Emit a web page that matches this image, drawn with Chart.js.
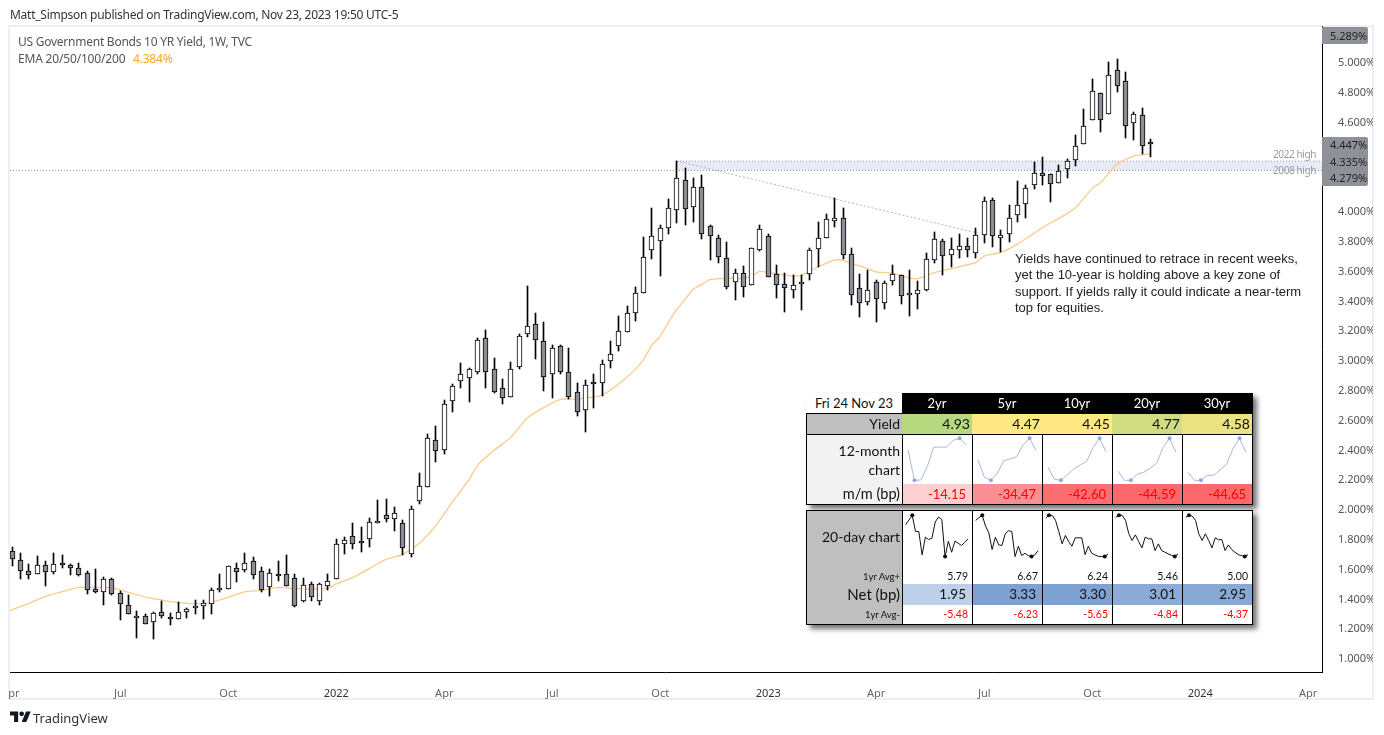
<!DOCTYPE html>
<html><head><meta charset="utf-8"><title>US 10Y</title>
<style>
html,body{margin:0;padding:0;background:#fff;width:1384px;height:735px;overflow:hidden;font-family:"Noto Sans",sans-serif}
#main{position:absolute;left:0;top:0}
.t{position:absolute;white-space:nowrap}
.c{position:absolute;box-sizing:border-box;white-space:nowrap;font-family:Lato,sans-serif;color:#111}
canvas.s{position:absolute}
</style>
<script src="https://cdn.jsdelivr.net/npm/chart.js@4"></script>
</head><body>
<canvas id="main" width="1384" height="735"></canvas>
<script>
const opens=[1.716,1.655,1.582,1.561,1.622,1.575,1.635,1.622,1.602,1.568,
1.461,1.441,1.528,1.434,1.353,1.266,1.280,1.239,1.306,1.273,
1.259,1.306,1.345,1.347,1.360,1.461,1.461,1.602,1.588,1.649,
1.582,1.474,1.561,1.561,1.535,1.380,1.494,1.380,1.481,1.528,
1.763,1.817,1.783,1.796,1.904,1.957,1.931,1.904,1.696,2.051,
2.145,2.461,2.394,2.722,2.857,2.877,2.917,3.145,2.937,2.810,
2.749,2.951,3.172,3.239,3.125,2.904,3.092,2.917,2.783,2.662,
2.850,2.843,2.991,3.092,3.186,3.313,3.447,3.736,3.796,3.884,
4.004,4.206,4.024,4.159,3.897,3.816,3.682,3.521,3.582,3.501,
3.736,3.830,3.575,3.508,3.467,3.514,3.575,3.743,3.816,3.930,
3.951,3.709,3.481,3.387,3.521,3.380,3.528,3.568,3.441,3.441,
3.467,3.669,3.796,3.702,3.736,3.763,3.716,3.837,4.071,3.816,
3.843,3.971,4.045,4.172,4.253,4.246,4.186,4.279,4.340,4.447,
4.608,4.790,4.649,4.944,4.870,4.588,4.642,4.461];
const highs=[1.743,1.702,1.631,1.682,1.649,1.702,1.691,1.629,1.635,1.582,
1.597,1.541,1.535,1.447,1.423,1.313,1.293,1.306,1.383,1.300,
1.376,1.333,1.387,1.387,1.468,1.564,1.615,1.635,1.702,1.676,
1.608,1.595,1.649,1.689,1.561,1.535,1.508,1.501,1.561,1.796,
1.810,1.904,1.877,1.937,2.060,2.067,2.011,1.924,2.018,2.239,
2.501,2.555,2.729,2.837,2.978,2.944,3.145,3.199,3.011,2.870,
2.984,3.172,3.496,3.313,3.253,3.098,3.098,3.078,2.843,2.863,
2.904,2.998,3.125,3.293,3.360,3.488,3.823,4.018,3.904,4.078,
4.335,4.286,4.219,4.239,3.904,3.837,3.790,3.608,3.629,3.749,
3.904,3.843,3.635,3.582,3.568,3.568,3.749,3.924,3.977,4.085,
4.018,3.749,3.575,3.602,3.539,3.528,3.635,3.568,3.602,3.528,
3.716,3.857,3.810,3.816,3.843,3.816,3.884,4.092,4.085,3.870,
4.038,4.199,4.172,4.329,4.360,4.250,4.306,4.347,4.508,4.682,
4.883,4.790,4.998,5.018,4.930,4.662,4.689,4.481];
const lows=[1.620,1.532,1.532,1.561,1.485,1.566,1.606,1.559,1.553,1.432,
1.438,1.358,1.425,1.257,1.293,1.136,1.226,1.130,1.271,1.224,
1.259,1.271,1.293,1.264,1.298,1.445,1.461,1.512,1.575,1.528,
1.441,1.418,1.519,1.481,1.340,1.374,1.380,1.358,1.459,1.528,
1.700,1.734,1.711,1.747,1.904,1.910,1.850,1.689,1.676,2.031,
2.145,2.313,2.371,2.653,2.814,2.720,2.908,2.814,2.776,2.707,
2.749,2.942,3.156,3.009,2.794,2.747,2.904,2.736,2.622,2.519,
2.680,2.761,2.948,3.058,3.186,3.264,3.447,3.680,3.566,3.843,
3.917,3.904,3.924,3.810,3.673,3.653,3.474,3.405,3.425,3.501,
3.729,3.555,3.418,3.324,3.418,3.338,3.539,3.626,3.816,3.895,
3.675,3.371,3.291,3.371,3.257,3.344,3.501,3.378,3.297,3.344,
3.461,3.649,3.573,3.622,3.682,3.689,3.682,3.783,3.760,3.722,
3.794,3.928,3.955,4.147,4.177,4.062,4.186,4.219,4.304,4.447,
4.608,4.532,4.649,4.801,4.488,4.474,4.380,4.364];
const closes=[1.662,1.582,1.559,1.622,1.575,1.629,1.622,1.602,1.555,1.454,
1.441,1.528,1.427,1.360,1.293,1.280,1.226,1.300,1.280,1.259,
1.306,1.327,1.347,1.367,1.454,1.468,1.615,1.575,1.635,1.555,
1.454,1.568,1.548,1.481,1.347,1.488,1.407,1.494,1.515,1.763,
1.790,1.763,1.770,1.910,1.917,1.931,1.971,1.736,1.998,2.152,
2.474,2.387,2.702,2.823,2.904,2.937,3.132,2.917,2.783,2.743,
2.937,3.159,3.226,3.132,2.884,3.078,2.917,2.749,2.649,2.830,
2.837,2.971,3.038,3.192,3.313,3.447,3.689,3.830,3.884,4.018,
4.219,4.011,4.159,3.843,3.830,3.689,3.488,3.582,3.488,3.749,
3.877,3.555,3.501,3.481,3.501,3.521,3.736,3.816,3.944,3.951,
3.702,3.434,3.380,3.467,3.407,3.514,3.575,3.427,3.447,3.467,
3.675,3.810,3.696,3.743,3.763,3.736,3.837,4.065,3.830,3.837,
3.951,4.038,4.152,4.253,4.233,4.179,4.266,4.333,4.434,4.568,
4.803,4.608,4.910,4.836,4.568,4.649,4.434,4.447];
const emaWeeks=[0.723,1,3,5,7,9,11,13,15,17,19,21,23,25,27,29,31,33,35,37,39,40,42,44,46,48,50,52,54,56,57,59,61,63,65,67,69,71,72,74,76,77,78,79,80,81,82,83,84,85,87,89,90,91,93,95,96,98,100,101,102,104,105,107,109,110,112,113,115,117,118,120,122,125,127,129,131,132,134,136,137,138];
const emaValues=[1.316,1.324,1.367,1.414,1.445,1.474,1.474,1.470,1.441,1.409,1.389,1.371,1.365,1.374,1.407,1.445,1.454,1.474,1.465,1.463,1.467,1.497,1.540,1.602,1.662,1.696,1.770,1.890,2.049,2.199,2.293,2.394,2.481,2.611,2.682,2.736,2.738,2.752,2.765,2.839,2.937,3.004,3.100,3.161,3.255,3.340,3.409,3.476,3.508,3.539,3.548,3.548,3.564,3.595,3.579,3.564,3.570,3.626,3.671,3.669,3.649,3.613,3.591,3.582,3.550,3.546,3.586,3.602,3.626,3.655,3.698,3.722,3.778,3.888,3.951,4.022,4.152,4.190,4.315,4.371,4.376,4.384];
const yTickValues=[1,1.2,1.4,1.6,1.8,2,2.2,2.4,2.6,2.8,3,3.2,3.4,3.6,3.8,4,4.2,4.4,4.6,4.8,5];
const yTickHidden=[4.2,4.4];
const xTickWeeks=[1.2,14,27,40,53,66,79,92,105,118,131,144,157];
const xTickLabels=['pr','Jul','Oct','2022','Apr','Jul','Oct','2023','Apr','Jul','Oct','2024','Apr'];
const zoneTop=4.335, zoneBottom=4.273, zoneStartWeek=81;
const trendWeeks=[81,117.2], trendValues=[4.335,3.852];
const xMin=0.723,xMax=158.66,yMin=0.906,yMax=5.242;

const tenors=['2yr','5yr','10yr','20yr','30yr'];
const yields=['4.93','4.47','4.45','4.77','4.58'];
const yieldColors=['#b8d87f','#fde884','#fde884','#cfdc82','#ebe284'];
const monthChange=['-14.15','-34.47','-42.60','-44.59','-44.65'];
const monthColors=['#fcd0d3','#fb8e92','#fb6e72','#fb696d','#fb696d'];
const avgPlus=['5.79','6.67','6.24','5.46','5.00'];
const avgMinus=['-5.48','-6.23','-5.65','-4.84','-4.37'];
const netBp=['1.95','3.33','3.30','3.01','2.95'];
const netColors=['#bcd0e9','#7da1d0','#7da1d0','#8baad5','#88a9d4'];
const spark12=[[102,11,12,52,110,110,110,130,136,117],
[72,20,11,32,69,75,81,117,136,100],
[50,14,11,27,45,57,67,109,136,97],
[38,11,11,29,35,47,62,109,136,94],
[35,11,11,26,26,42,59,107,136,94]];
const spark20=[[132,146,160,112,112,42,95,88,92,140,155,148,37,83,50,83,77,70,80,90],
[145,153,160,128,108,58,95,72,70,105,114,112,37,68,40,47,40,37,42,55],
[152,160,160,145,112,75,100,82,68,93,93,93,43,68,47,42,38,37,37,45],
[154,160,160,145,105,85,102,82,63,95,90,90,55,75,55,50,45,41,37,45],
[154,160,158,145,105,85,105,85,63,93,87,88,55,72,58,50,43,40,37,43]];

const weeks=opens.map((_,i)=>i+1);
const up=opens.map((o,i)=>closes[i]>=o);
const snap={id:'snap',beforeDatasetsDraw(chart){
  chart.data.datasets.forEach((d,i)=>{
    if(d.type!=='bar')return;
    chart.getDatasetMeta(i).data.forEach(el=>{
      el.x=Math.floor(el.x)+0.5;
      el.y=Math.round(el.y);el.base=Math.round(el.base);
      if(d.label==='body'&&el.base-el.y<2)el.base=el.y+2;
    });
  });
}};
const frame={id:'frame',beforeDraw(chart){
  const c=chart.ctx;c.save();c.strokeStyle='#eeeff5';c.lineWidth=2;
  c.strokeRect(9,26,1364,673);c.restore();
}};
new Chart(document.getElementById('main'),{
  type:'bar',
  plugins:[snap,frame],
  data:{datasets:[
    {type:'line',label:'zone',order:6,data:[{x:zoneStartWeek,y:zoneTop},{x:xMax,y:zoneTop}],borderColor:'#8a8d99',borderWidth:1,borderDash:[1,2],pointRadius:0,fill:{value:zoneBottom},backgroundColor:'#e8eaf6'},
    {type:'line',label:'support',order:5,data:[{x:xMin,y:zoneBottom},{x:xMax,y:zoneBottom}],borderColor:'#8a8d99',borderWidth:1,borderDash:[1,2],pointRadius:0,fill:false},
    {type:'line',label:'trend',order:4,data:trendWeeks.map((w,i)=>({x:w,y:trendValues[i]})),borderColor:'#b4b5bd',borderWidth:1,borderDash:[2,2],pointRadius:0,fill:false},
    {type:'line',label:'EMA',order:3,data:emaWeeks.map((w,i)=>({x:w,y:emaValues[i]})),borderColor:'#fbcb8a',borderWidth:1.3,pointRadius:0,fill:false,tension:0.2},
    {type:'bar',label:'wick',order:2,data:weeks.map((w,i)=>({x:w,y:[lows[i],highs[i]]})),backgroundColor:'#000',barThickness:1,grouped:false,borderWidth:0},
    {type:'bar',label:'body',order:1,data:weeks.map((w,i)=>({x:w,y:[Math.min(opens[i],closes[i]),Math.max(opens[i],closes[i])]})),backgroundColor:up.map(u=>u?'#fff':'#8c8e95'),borderColor:'#000',borderWidth:1,borderSkipped:false,barThickness:5,grouped:false}
  ]},
  options:{responsive:false,animation:false,
    layout:{padding:{left:10,top:26,right:11,bottom:36}},
    plugins:{legend:{display:false},tooltip:{enabled:false}},
    scales:{
      x:{type:'linear',offset:false,min:xMin,max:xMax,grid:{display:false},border:{display:true,color:'#000',width:1},
        afterBuildTicks:s=>{s.ticks=xTickWeeks.map(v=>({value:v}))},
        afterFit:s=>{s.height=27},
        ticks:{autoSkip:false,maxRotation:0,padding:7,color:c=>/^20/.test(xTickLabels[c.index])?'#333':'#666',font:{family:'"Noto Sans"',size:11},callback:(v,i)=>xTickLabels[i]}},
      y:{position:'right',min:yMin,max:yMax,grid:{display:false},border:{display:true,color:'#000',width:1},
        afterBuildTicks:s=>{s.ticks=yTickValues.filter(v=>!yTickHidden.includes(v)).map(v=>({value:v}))},
        afterFit:s=>{s.width=51},
        ticks:{autoSkip:false,padding:8,labelOffset:1,color:'#555',font:{family:'"Noto Sans"',size:11},callback:v=>v.toFixed(3)+'%'}}
    }
  }
});

function t(x,y,txt,style){const d=document.createElement('div');d.className='t';d.style.cssText='left:'+x+'px;top:'+y+'px;'+(style||'');d.textContent=txt;document.body.appendChild(d);return d}
function box(x,y,w,h,txt,style){const d=document.createElement('div');d.className='c';d.style.cssText='left:'+x+'px;top:'+y+'px;width:'+w+'px;height:'+h+'px;line-height:'+h+'px;'+(style||'');if(txt)d.textContent=txt;document.body.appendChild(d);return d}

t(10,7,'Matt_Simpson published on TradingView.com, Nov 23, 2023 19:50 UTC-5','font-size:12px;letter-spacing:-0.26px;line-height:16px;color:#333;');
t(18,34,'US Government Bonds 10 YR Yield, 1W, TVC','font-size:12px;letter-spacing:-0.25px;line-height:16px;color:#555;');
t(18,51,'EMA 20/50/100/200','font-size:12px;letter-spacing:-0.18px;line-height:16px;color:#555;');
t(133,51,'4.384%','font-size:12px;letter-spacing:-0.2px;line-height:16px;color:#f9a72a;');
t(33,709,'TradingView','font-size:13px;line-height:18px;color:#333;');
document.body.insertAdjacentHTML('beforeend','<svg style="position:absolute;left:10px;top:711px" width="21" height="12" viewBox="0 4 36 19"><path fill="#131722" d="M14 22H7V11H0V4h14v18zM28 22h-8l7.5-18h8L28 22z"/><circle fill="#131722" cx="20" cy="8" r="4"/></svg>');

// price scale labels
const pl='font-family:"Noto Sans";font-size:11px;line-height:16px;color:#222;';
box(1322,27,46,17,'','background:#8f9199;border-radius:0 2px 2px 0;');
t(1330,28,'5.289%',pl);
box(1322,137,46,49,'','background:#8f9199;border-radius:0 2px 2px 0;');
t(1330,137,'4.447%',pl);t(1330,154,'4.335%',pl);t(1330,170,'4.279%',pl);
const lb='font-size:10px;letter-spacing:-0.4px;line-height:12px;color:#9a9ca3;';
t(1273,148,'2022 high',lb);t(1273,164,'2008 high',lb);

// annotation
['Yields have continued to retrace in recent weeks,','yet the 10-year is holding above a key zone of','support. If yields rally it could indicate a near-term','top for equities.'].forEach((s,i)=>t(1015,251+i*16.3,s,'font-family:"Liberation Sans";font-size:13px;line-height:16px;color:#222;'));

// table
const cols=[902,972,1042,1112,1182,1252];
box(806,393,447,112,'','box-shadow:4px 4px 5px rgba(0,0,0,.55);background:#fff;');
box(806,510,447,115,'','box-shadow:4px 4px 5px rgba(0,0,0,.55);background:#fff;');
box(806,393,96,20,'Fri 24 Nov 23','background:#fff;font-size:13px;text-align:center;');
box(902,393,351,20,'','background:#000;');
tenors.forEach((s,i)=>box(cols[i],393,70,20,s,'color:#fff;font-size:13px;text-align:center;'));
box(807,414,95,20,'Yield','background:#bfbfbf;font-size:14px;text-align:right;padding-right:2px;');
box(807,435,95,49,'','background:#f2f2f2;');
box(807,441,95,20,'12-month','font-size:14px;text-align:right;padding-right:2px;');
box(807,460,95,20,'chart','font-size:14px;text-align:right;padding-right:2px;');
box(807,484,95,20,'m/m (bp)','background:#f2f2f2;font-size:14.5px;text-align:right;padding-right:2px;');
tenors.forEach((s,i)=>{
  box(cols[i],414,70,20,yields[i],'background:'+yieldColors[i]+';font-size:14px;text-align:right;padding-right:2px;');
  box(cols[i],484,70,20,monthChange[i],'background:'+monthColors[i]+';color:#f00;font-size:13px;text-align:right;padding-right:6px;');
});
box(806,413,447,92,'','border:1.5px solid #000;background:transparent;');
box(806,433.5,447,1,'','background:#000;');
cols.slice(0,5).forEach(x=>box(x,434,1,70,'','background:#000;'));

box(807,511,95,113,'','background:#bfbfbf;');
box(807,527,95,20,'20-day chart','font-size:14px;text-align:right;padding-right:2px;');
box(807,569,95,15,'1yr Avg+','font-size:9.5px;text-align:right;padding-right:2px;');
box(807,584,95,21,'Net (bp)','font-size:15px;text-align:right;padding-right:2px;');
box(807,607,95,15,'1yr Avg-','font-size:9.5px;text-align:right;padding-right:2px;');
tenors.forEach((s,i)=>{
  box(cols[i],569,70,15,avgPlus[i],'font-size:10.5px;text-align:right;padding-right:4px;');
  box(cols[i],584,70,21,netBp[i],'background:'+netColors[i]+';font-size:13.5px;text-align:right;padding-right:6px;');
  box(cols[i],607,70,15,avgMinus[i],'color:#f00;font-size:10.5px;text-align:right;padding-right:4px;');
});
box(806,510,447,115,'','border:1.5px solid #000;background:transparent;');
cols.slice(0,5).forEach(x=>box(x,510,1,114,'','background:#000;'));

function spark(x,y,w,h,vals,yTop,xLo,xHi,color,ptColor,lw,r){
  const cv=document.createElement('canvas');cv.className='s';cv.width=w;cv.height=h;cv.style.left=x+'px';cv.style.top=y+'px';document.body.appendChild(cv);
  const hi=vals.indexOf(Math.max(...vals)),lo=vals.lastIndexOf(Math.min(...vals));
  new Chart(cv,{type:'line',data:{datasets:[{data:vals.map((v,i)=>({x:i,y:v})),borderColor:color,borderWidth:lw,tension:0,clip:false,
    pointBackgroundColor:ptColor,pointBorderWidth:0,pointRadius:c=>(c.dataIndex===hi||c.dataIndex===lo)?r:0}]},
    options:{responsive:false,animation:false,layout:{padding:0},plugins:{legend:{display:false},tooltip:{enabled:false}},
    scales:{x:{type:'linear',display:false,min:xLo,max:xHi},y:{display:false,min:0,max:yTop}}}});
}
spark12.forEach((v,i)=>spark(cols[i],434,70,50,v,149,-0.93,9.93,'#a9b8d6','#8faadc',1,2));
spark20.forEach((v,i)=>spark(cols[i],510,70,59,v,176,-1.12,20.2,'#111','#111',1,2));
</script>
</body></html>
